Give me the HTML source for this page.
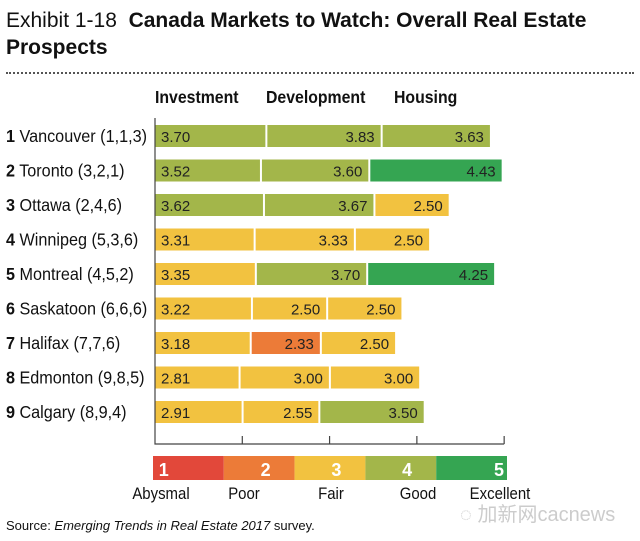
<!DOCTYPE html>
<html><head><meta charset="utf-8"><style>
body{margin:0;width:640px;height:541px;background:#fff;overflow:hidden;font-family:"Liberation Sans",sans-serif;position:relative}
.t{position:absolute;white-space:nowrap}
</style></head><body>
<div class="t" style="left:6px;top:7px;font-size:21px;line-height:27px;color:#111;width:625px;white-space:normal">Exhibit 1-18&nbsp; <b>Canada Markets to Watch: Overall Real Estate Prospects</b></div>
<div style="position:absolute;left:6px;top:72px;width:628px;border-top:2px dotted #555"></div>
<svg id="c" width="640" height="541" style="position:absolute;left:0;top:0"></svg>
<div class="t" style="left:6px;top:518px;font-size:13px;color:#111">Source: <i>Emerging Trends in Real Estate 2017</i> survey.</div>
<div class="t" style="left:460px;top:498px;font-size:20px;color:#ccc;font-family:'Liberation Sans','Noto Sans CJK SC',sans-serif">◌ 加新网cacnews</div>
<script>
const cities=["Vancouver (1,1,3)","Toronto (3,2,1)","Ottawa (2,4,6)","Winnipeg (5,3,6)","Montreal (4,5,2)","Saskatoon (6,6,6)","Halifax (7,7,6)","Edmonton (9,8,5)","Calgary (8,9,4)"];
const investment=[3.70,3.52,3.62,3.31,3.35,3.22,3.18,2.81,2.91];
const development=[3.83,3.60,3.67,3.33,3.70,2.50,2.33,3.00,2.55];
const housing=[3.63,4.43,2.50,2.50,4.25,2.50,2.50,3.00,3.50];
const headers=["Investment","Development","Housing"];
const ticks=[2.9,5.8,8.7,11.6];
const legendNums=["1","2","3","4","5"];
const legendLabels=["Abysmal","Poor","Fair","Good","Excellent"];
const legendColors=["#e2483a","#ec7b38","#f2c240","#a3b64a","#35a552"];
const NS="http://www.w3.org/2000/svg";
const svg=document.getElementById('c');
const x0=155,k=30.1,y0=125,rowH=34.5,bh=22;
const X=v=>x0+v*k, Y=i=>y0+i*rowH;
function col(v){return v>=4?legendColors[4]:v>=3.5?legendColors[3]:v>=2.5?legendColors[2]:v>=1.5?legendColors[1]:legendColors[0];}
function mk(t,a,txt){const e=document.createElementNS(NS,t);for(const q in a)e.setAttribute(q,a[q]);if(txt!=null)e.textContent=txt;svg.appendChild(e);return e;}
const hx=[155,266,394];
headers.forEach((h,j)=>{const e=mk('text',{x:hx[j],y:103,'font-size':18,'font-weight':'bold',fill:'#111',transform:`translate(${hx[j]},0) scale(0.88,1) translate(${-hx[j]},0)`},h);

});
cities.forEach((c,i)=>{
  const y=Y(i);
  const lb=mk('text',{x:6,y:y+17,'font-size':18,fill:'#111',transform:`translate(6,0) scale(0.9,1) translate(-6,0)`});
  
  
  lb.innerHTML=`<tspan font-weight="bold">${i+1}</tspan> ${c}`;
  const vals=[investment[i],development[i],housing[i]];
  let s=0;
  vals.forEach((v,j)=>{
    const xa=X(s),xb=X(s+v);s+=v;
    const r=mk('rect',{x:xa+(j?1:0),y:y,width:xb-xa-(j?1:0)-1,height:bh,fill:col(v)});
    
    
    const t=mk('text',{x:j?xb-7:xa+6,y:y+17,'font-size':15,fill:'#222','text-anchor':j?'end':'start'},v.toFixed(2));
    
    
  });
});
const ax=mk('path',{d:`M${x0},118V444H${X(ticks[ticks.length-1])}`,stroke:'#444','stroke-width':1.2,fill:'none'});


ticks.forEach(t=>{const e=mk('line',{x1:X(t),x2:X(t),y1:436,y2:444,stroke:'#444','stroke-width':1.2});

});
const lx=153,lw=70.8;
legendNums.forEach((n,i)=>{
  const r=mk('rect',{x:lx+i*lw,y:456,width:lw,height:24,fill:legendColors[i]});
  
  
  const t=mk('text',{x:lx+i*lw+lw-(i==0?55:i==4?3:24),y:476,'font-size':18,'font-weight':'bold',fill:'#fff','text-anchor':'end'},n);
  
  
});
const lpos=[161,244,331,418,500];
legendLabels.forEach((l,i)=>{const t=mk('text',{x:lpos[i],y:499,'font-size':17,fill:'#111','text-anchor':'middle',transform:`translate(${lpos[i]},0) scale(0.88,1) translate(${-lpos[i]},0)`},l);

});
</script>
</body></html>
